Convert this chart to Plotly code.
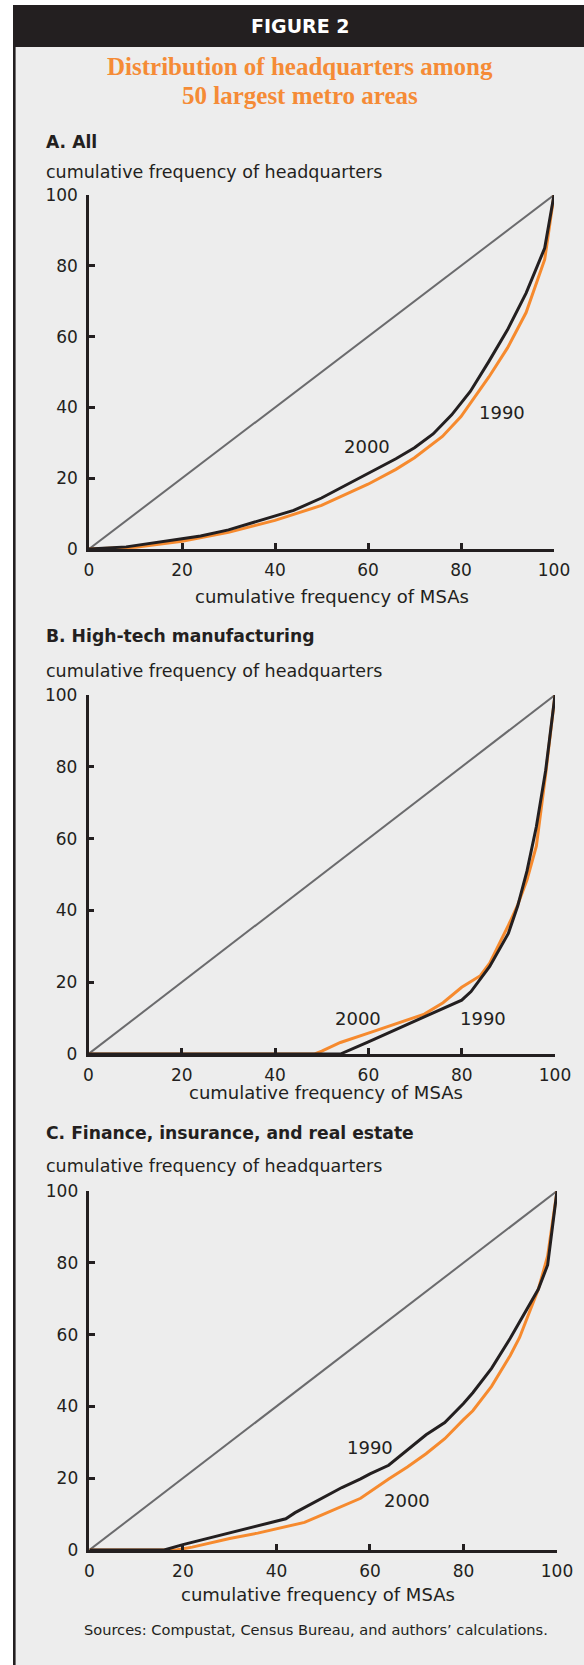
import plotly.graph_objects as go

W, H = 584, 1665

# ---- data: cumulative share of headquarters vs cumulative share of MSAs ----
# Panel A: all headquarters
a_black_x = [0, 8, 20, 24, 30, 40, 44, 50, 56, 60, 66, 70, 74, 78, 82, 86, 90, 94, 98, 100]
a_black_y = [0, 0.6, 2.9, 3.7, 5.4, 9.4, 10.9, 14.4, 18.5, 21.3, 25.5, 28.6, 32.5, 37.9, 44.5, 53.0, 61.9, 72.3, 85.0, 100]
a_orange_x = [0, 10, 20, 30, 40, 50, 60, 66, 70, 76, 80, 86, 90, 94, 98, 100]
a_orange_y = [0, 0.5, 2.2, 4.7, 8.1, 12.3, 18.3, 22.5, 25.8, 31.8, 37.4, 48.6, 56.8, 66.8, 81.8, 100]

# Panel B: high-tech manufacturing
b_black_x = [0, 54, 60, 66, 72, 76, 80, 82, 86, 90, 92, 94, 96, 98, 100]
b_black_y = [0, 0, 3.4, 6.9, 10.4, 12.6, 15.0, 17.4, 24.4, 33.6, 41.2, 51.0, 63.3, 79.0, 100]
b_orange_x = [0, 48.5, 50, 54, 60, 66, 72, 76, 80, 84, 86, 90, 92, 94, 96, 98, 100]
b_orange_y = [0, 0, 0.8, 3.2, 5.8, 8.5, 11.1, 14.3, 18.6, 21.8, 25.3, 35.8, 41.5, 48.5, 57.9, 78.0, 100]

# Panel C: finance, insurance, and real estate
c_black_x = [0, 16, 20, 24, 30, 34, 38, 42, 44, 50, 54, 58, 60, 64, 68, 72, 76, 80, 82, 86, 90, 94, 96, 98, 100]
c_black_y = [0, 0, 1.5, 2.8, 4.7, 6.1, 7.3, 8.7, 10.4, 14.6, 17.4, 19.8, 21.2, 23.6, 27.9, 32.1, 35.5, 40.8, 43.8, 50.6, 59.0, 68.0, 72.6, 79.4, 100]
c_orange_x = [0, 18.5, 22, 30, 36, 40, 44, 46, 50, 54, 58, 64, 68, 72, 76, 80, 82, 86, 90, 92, 94, 96, 98, 100]
c_orange_y = [0, 0, 0.8, 3.2, 4.7, 5.9, 6.9, 7.7, 9.9, 12.2, 14.4, 19.8, 23.1, 26.8, 31.0, 36.3, 38.8, 45.6, 54.2, 59.2, 65.9, 72.6, 81.9, 100]

equal_x = [0, 100]
equal_y = [0, 100]
tick_vals = [0, 20, 40, 60, 80, 100]

# curve labels: (panel, text, x, y)
curve_labels = [
    (1, "2000", 59.8, 29.0), (1, "1990", 88.8, 38.6),
    (2, "2000", 57.7, 10.0), (2, "1990", 84.5, 10.0),
    (3, "1990", 60.0, 28.5), (3, "2000", 68.0, 13.8),
]

panel_titles = ["A. All", "B. High-tech manufacturing", "C. Finance, insurance, and real estate"]
y_title = "cumulative frequency of headquarters"
x_title = "cumulative frequency of MSAs"

DARK = "#231f20"
ORANGE = "#f68a2e"
GRAY = "#6b6b6d"
BG = "#ededed"
SANS = "DejaVu Sans"


def px_x(px):
    return px / W


def px_y(py):
    return 1 - py / H


# plot-area boxes in pixels: (left, right, top, bottom)
boxes = [(89, 554, 195, 549), (88.5, 555, 695, 1054), (89.4, 557, 1191, 1550)]

fig = go.Figure()

series = [
    (a_black_x, a_black_y, a_orange_x, a_orange_y),
    (b_black_x, b_black_y, b_orange_x, b_orange_y),
    (c_black_x, c_black_y, c_orange_x, c_orange_y),
]

for i, (bx, by, ox, oy) in enumerate(series, start=1):
    xa = "x" if i == 1 else f"x{i}"
    ya = "y" if i == 1 else f"y{i}"
    fig.add_trace(go.Scatter(x=equal_x, y=equal_y, mode="lines", xaxis=xa, yaxis=ya,
                             line=dict(color=GRAY, width=2), hoverinfo="skip", showlegend=False))
    fig.add_trace(go.Scatter(x=ox, y=oy, mode="lines", xaxis=xa, yaxis=ya,
                             line=dict(color=ORANGE, width=3), showlegend=False))
    fig.add_trace(go.Scatter(x=bx, y=by, mode="lines", xaxis=xa, yaxis=ya,
                             line=dict(color=DARK, width=3), showlegend=False))

axis_common = dict(
    range=[0, 100], tickvals=tick_vals, showgrid=False, zeroline=False,
    showline=True, linecolor=DARK, linewidth=2.5, ticks="inside", ticklen=6,
    tickwidth=2.5, tickcolor=DARK, tickfont=dict(family=SANS, size=17, color=DARK),
    fixedrange=True, automargin=False,
)

layout_axes = {}
for i, (l, r, t, b) in enumerate(boxes, start=1):
    sx = "xaxis" if i == 1 else f"xaxis{i}"
    sy = "yaxis" if i == 1 else f"yaxis{i}"
    ya = "y" if i == 1 else f"y{i}"
    xa = "x" if i == 1 else f"x{i}"
    layout_axes[sx] = dict(axis_common, domain=[px_x(l), px_x(r)], anchor=ya,
                           ticklabelstandoff=4)
    layout_axes[sy] = dict(axis_common, domain=[px_y(b), px_y(t)], anchor=xa,
                           ticklabelstandoff=5)

annotations = []


def text(x, y, s, size, color=DARK, family=SANS, anchor="left", bold=False):
    if bold:
        s = f"<b>{s}</b>"
    annotations.append(dict(x=px_x(x), y=px_y(y), xref="paper", yref="paper", text=s,
                            showarrow=False, xanchor=anchor, yanchor="middle",
                            font=dict(family=family, size=size, color=color)))


# header and title
text(300, 26, "FIGURE 2", 19, color="white", bold=True, anchor="center")
text(300, 67, "Distribution of headquarters among", 25, color="#f58b36",
     family="Liberation Serif", bold=True, anchor="center")
text(300, 95, "50 largest metro areas", 25, color="#f58b36",
     family="Liberation Serif", bold=True, anchor="center")

# panel titles and axis titles (pixel positions)
title_y = [142, 636, 1133]
ytitle_y = [172, 671, 1166]
xtitle_pos = [(332, 596), (326, 1092), (318, 1594)]
for k in range(3):
    text(44, title_y[k], panel_titles[k], 17.2, bold=True)
    text(44, ytitle_y[k], y_title, 17.5)
    text(xtitle_pos[k][0], xtitle_pos[k][1], x_title, 18, anchor="center")

text(316, 1629, "Sources: Compustat, Census Bureau, and authors\u2019 calculations.", 14.6, anchor="center")

for panel, s, x, y in curve_labels:
    xa = "x" if panel == 1 else f"x{panel}"
    ya = "y" if panel == 1 else f"y{panel}"
    annotations.append(dict(x=x, y=y, xref=xa, yref=ya, text=s, showarrow=False,
                            xanchor="center", yanchor="middle",
                            font=dict(family=SANS, size=18, color=DARK)))

shapes = [
    # panel background
    dict(type="rect", xref="paper", yref="paper", x0=px_x(13), x1=1, y0=0, y1=px_y(5),
         fillcolor=BG, line=dict(width=0), layer="below"),
    # header bar
    dict(type="rect", xref="paper", yref="paper", x0=px_x(13), x1=1, y0=px_y(47), y1=px_y(5),
         fillcolor=DARK, line=dict(width=0), layer="below"),
    # left rule
    dict(type="rect", xref="paper", yref="paper", x0=px_x(13), x1=px_x(15.6), y0=0, y1=px_y(5),
         fillcolor=DARK, line=dict(width=0), layer="below"),
]

fig.update_layout(
    template="none",
    width=W, height=H, autosize=False,
    margin=dict(l=0, r=0, t=0, b=0, pad=0),
    paper_bgcolor="white", plot_bgcolor="rgba(0,0,0,0)",
    showlegend=False, annotations=annotations, shapes=shapes,
    **layout_axes,
)

fig.write_html("out.html", config={"displayModeBar": False})
